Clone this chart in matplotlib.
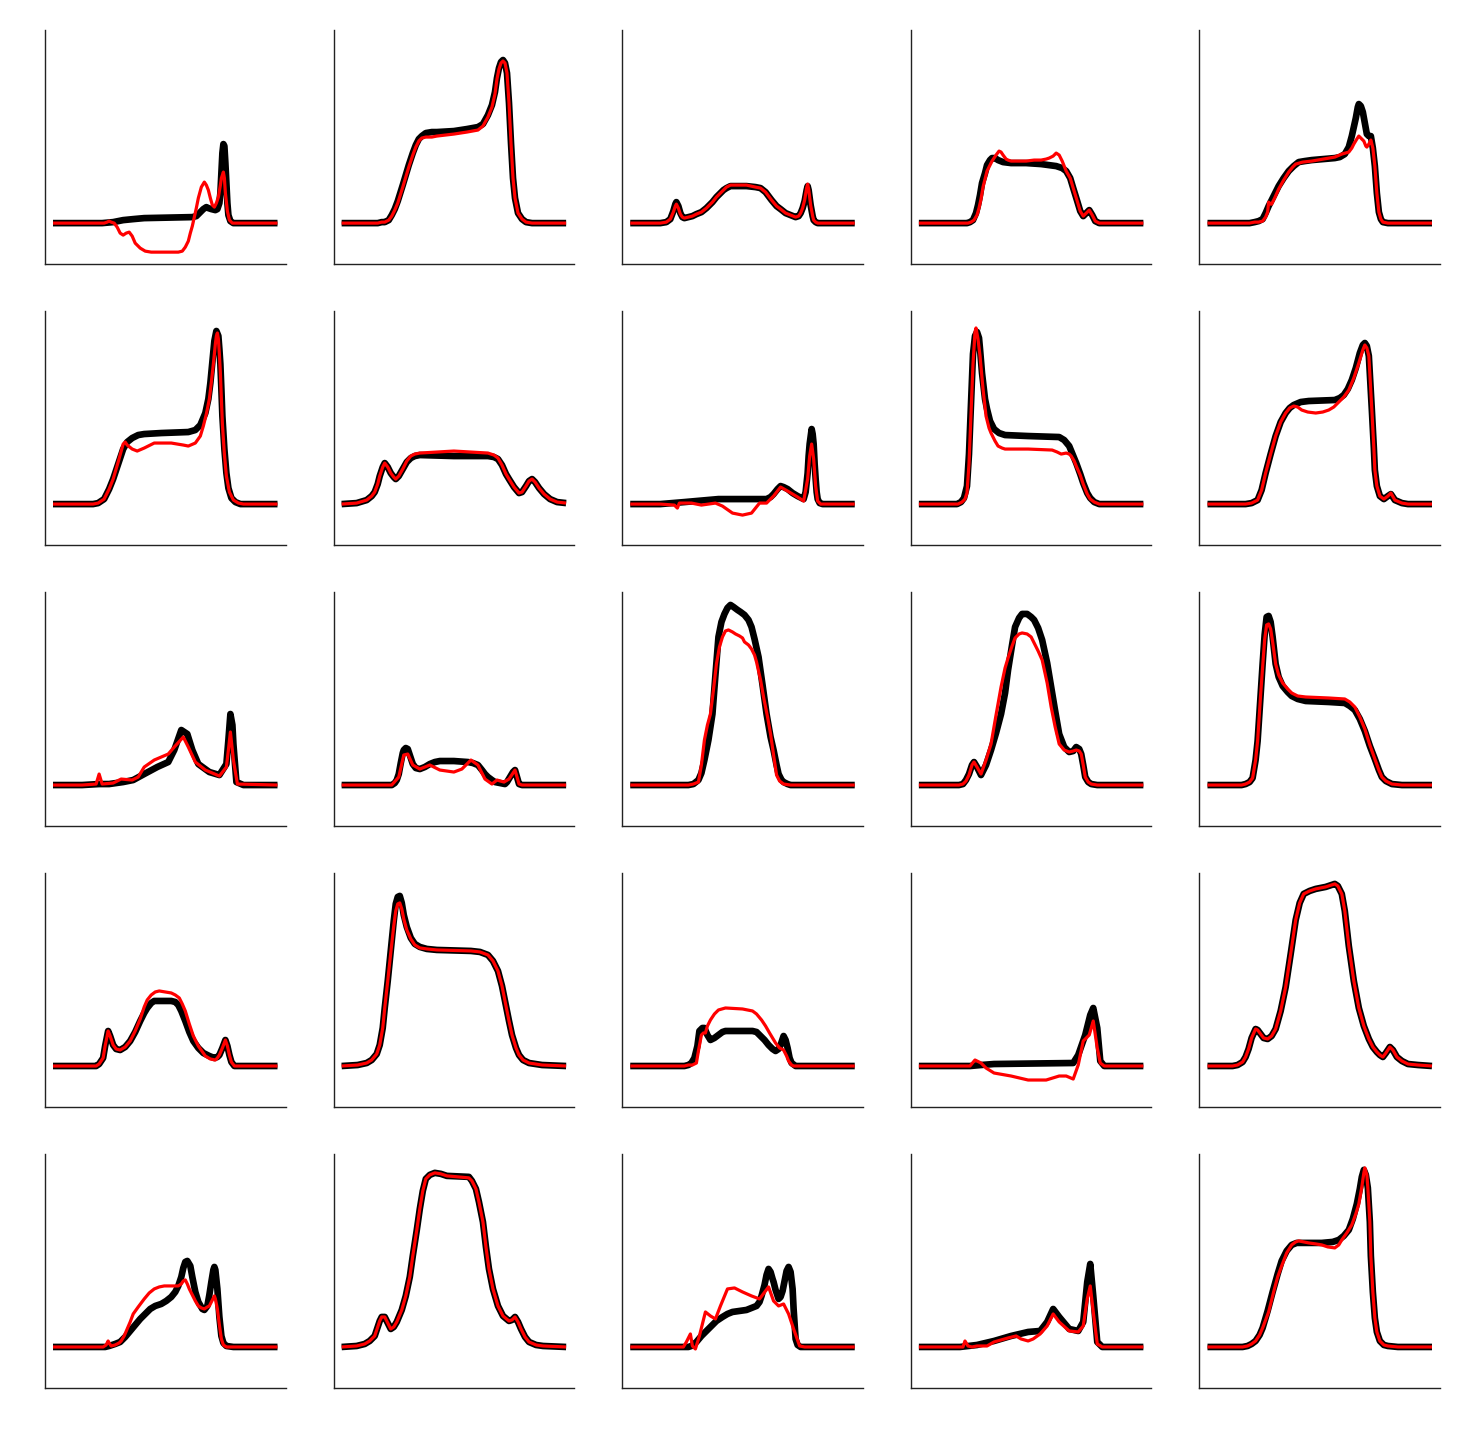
import matplotlib
matplotlib.use("Agg")
import matplotlib.pyplot as plt

# Each panel: black = reference curve, red = predicted curve.
# x in sample units (0..224), y in signal units (baseline 0).

# row 1
p11_bx = [0, 49, 60, 70, 80, 91, 139, 143, 146, 150, 153, 155, 158, 162, 164, 166, 167, 168, 169, 170, 171, 172, 173, 174, 175, 177, 180, 224]
p11_by = [0, 0, 1, 3, 4, 5, 6, 7, 10, 14, 16, 15, 14, 13, 14, 20, 30, 50, 70, 79, 77, 60, 40, 20, 8, 2, 0, 0]
p11_rx = [0, 51, 54, 56, 58, 61, 64, 67, 70, 73, 76, 79, 82, 87, 92, 98, 110, 125, 129, 132, 135, 137, 139, 141, 143, 145, 148, 151, 153, 155, 157, 159, 161, 163, 165, 167, 168, 170, 171, 172, 174, 176, 179, 224]
p11_ry = [0, 0, 1, 2, 1, 0, -4, -10, -12, -10, -9, -13, -20, -25, -28, -29, -29, -29, -28, -24, -18, -10, -3, 6, 15, 25, 36, 41, 38, 33, 25, 18, 16, 20, 26, 38, 45, 51, 45, 30, 12, 3, 0, 0]

p12_bx = [0, 36, 40, 43, 47, 50, 53, 56, 61, 67, 71, 74, 77, 80, 84, 90, 95, 112, 125, 136, 141, 146, 150, 153, 155, 157, 159, 161, 163, 165, 167, 169, 171, 173, 176, 180, 184, 190, 224]
p12_by = [0, 0, 1, 1, 3, 8, 14, 22, 38, 58, 70, 78, 84, 87, 90, 91, 91, 92, 94, 96, 99, 108, 118, 131, 145, 155, 161, 163, 160, 150, 120, 80, 45, 25, 10, 4, 1, 0, 0]
p12_rx = [0, 36, 40, 43, 47, 50, 53, 56, 61, 67, 71, 74, 77, 80, 84, 90, 95, 112, 125, 136, 141, 146, 150, 153, 155, 157, 159, 161, 163, 165, 167, 169, 171, 173, 176, 180, 184, 190, 224]
p12_ry = [0, 0, 1, 1, 3, 7, 13, 20, 36, 56, 68, 76, 82, 85, 86, 86, 87, 89, 91, 93, 97, 106, 116, 129, 144, 154, 160, 162, 160, 150, 120, 80, 45, 25, 10, 4, 1, 0, 0]

p13_bx = [0, 30, 36, 40, 43, 45, 46, 48, 50, 52, 54, 58, 62, 66, 71, 76, 82, 86, 90, 93, 96, 100, 105, 116, 125, 130, 135, 141, 146, 150, 155, 160, 165, 168, 170, 172, 174, 176, 177, 178, 180, 182, 183, 185, 187, 224]
p13_by = [0, 0, 1, 4, 12, 19, 21, 17, 10, 6, 5, 6, 7, 9, 11, 15, 21, 26, 30, 33, 35, 37, 37, 37, 36, 35, 31, 23, 17, 14, 10, 8, 6, 7, 10, 15, 22, 33, 37, 33, 18, 7, 3, 1, 0, 0]
p13_rx = [0, 30, 36, 40, 43, 45, 46, 48, 50, 52, 54, 58, 62, 66, 71, 76, 82, 86, 90, 93, 96, 100, 105, 116, 125, 130, 135, 141, 146, 150, 155, 160, 165, 168, 170, 172, 174, 176, 177, 178, 180, 182, 183, 185, 187, 224]
p13_ry = [0, 0, 1, 4, 11, 17, 19, 15, 9, 6, 5, 6, 7, 9, 11, 15, 21, 26, 30, 33, 36, 38, 38, 38, 36, 35, 31, 23, 17, 14, 10, 8, 6, 7, 10, 15, 23, 35, 39, 34, 18, 7, 3, 1, 0, 0]

p14_bx = [0, 48, 51, 54, 57, 59, 61, 63, 66, 68, 71, 73, 76, 79, 84, 92, 107, 122, 137, 143, 147, 151, 154, 158, 161, 164, 167, 170, 173, 176, 180, 224]
p14_by = [0, 0, 1, 3, 10, 18, 28, 40, 50, 58, 63, 65, 65, 63, 61, 60, 60, 59, 57, 55, 52, 45, 35, 22, 12, 7, 10, 13, 8, 2, 0, 0]
p14_rx = [0, 49, 52, 55, 58, 60, 62, 64, 66, 68, 71, 73, 75, 77, 80, 82, 84, 87, 89, 92, 100, 107, 115, 122, 127, 130, 134, 137, 140, 143, 147, 151, 154, 158, 161, 164, 167, 170, 173, 176, 180, 224]
p14_ry = [0, 0, 1, 3, 8, 15, 24, 36, 44, 52, 58, 62, 65, 68, 72, 71, 68, 64, 63, 62, 62, 62, 63, 63, 64, 65, 67, 70, 68, 62, 52, 45, 35, 22, 12, 7, 10, 13, 8, 2, 0, 0]

p15_bx = [0, 42, 47, 51, 55, 58, 61, 66, 71, 76, 81, 86, 91, 97, 104, 127, 132, 137, 141, 144, 146, 148, 150, 151, 153, 155, 157, 159, 161, 163, 165, 167, 169, 171, 173, 175, 180, 224]
p15_by = [0, 0, 1, 2, 4, 10, 17, 27, 37, 45, 52, 57, 61, 62, 63, 65, 66, 69, 76, 87, 96, 105, 116, 119, 117, 111, 100, 89, 87, 87, 75, 57, 30, 11, 4, 1, 0, 0]
p15_rx = [0, 42, 47, 51, 55, 58, 60, 61, 63, 64, 67, 71, 76, 81, 85, 88, 95, 104, 127, 134, 141, 144, 146, 149, 151, 153, 156, 158, 159, 161, 163, 165, 167, 169, 171, 173, 175, 180, 224]
p15_ry = [0, 0, 1, 1, 2, 6, 11, 21, 19, 19, 25, 34, 43, 51, 56, 59, 61, 62, 66, 69, 71, 75, 79, 84, 87, 85, 82, 77, 76, 79, 83, 75, 57, 30, 11, 4, 1, 0, 0]

# row 2
p21_bx = [0, 40, 45, 51, 56, 60, 65, 70, 74, 79, 85, 91, 108, 135, 142, 147, 152, 155, 157, 159, 161, 163, 165, 166, 167, 168, 169, 171, 173, 175, 178, 182, 187, 224]
p21_by = [0, 0, 1, 5, 15, 25, 40, 55, 62, 66, 69, 70, 71, 72, 74, 79, 91, 105, 121, 142, 163, 173, 168, 155, 140, 115, 88, 55, 31, 16, 6, 2, 0, 0]
p21_rx = [0, 40, 45, 51, 56, 60, 65, 70, 72, 74, 79, 84, 91, 101, 118, 130, 135, 142, 147, 150, 153, 156, 158, 160, 162, 163, 164, 165, 166, 167, 168, 169, 171, 173, 176, 180, 185, 190, 224]
p21_ry = [0, 0, 1, 5, 15, 25, 42, 60, 62, 59, 55, 53, 56, 61, 61, 59, 58, 61, 68, 78, 90, 105, 122, 140, 160, 168, 171, 165, 150, 131, 105, 80, 50, 28, 12, 4, 1, 0, 0]

p22_bx = [0, 15, 25, 30, 33, 36, 38, 41, 43, 46, 49, 52, 54, 57, 61, 65, 69, 73, 78, 112, 146, 152, 156, 160, 164, 167, 172, 177, 180, 184, 187, 190, 193, 197, 202, 208, 215, 224]
p22_by = [0, 1, 4, 8, 12, 20, 28, 37, 41, 37, 31, 27, 25, 28, 35, 42, 46, 48, 49, 48, 48, 47, 45, 39, 30, 25, 17, 11, 12, 18, 23, 25, 22, 16, 10, 5, 2, 1]
p22_rx = [0, 15, 25, 30, 33, 36, 38, 41, 43, 46, 49, 52, 54, 57, 61, 65, 69, 73, 78, 112, 146, 152, 156, 160, 164, 167, 172, 177, 180, 184, 187, 190, 193, 197, 202, 208, 215, 224]
p22_ry = [0, 1, 4, 8, 12, 20, 28, 37, 41, 37, 31, 27, 25, 28, 35, 43, 48, 50, 51, 53, 51, 49, 46, 39, 30, 25, 17, 11, 12, 18, 23, 25, 22, 16, 10, 5, 2, 1]

p23_bx = [0, 30, 54, 88, 136, 140, 143, 147, 150, 153, 157, 162, 167, 171, 173, 175, 177, 178, 179, 181, 182, 183, 184, 185, 186, 187, 189, 192, 224]
p23_by = [0, 0, 2, 5, 5, 7, 10, 15, 18, 17, 15, 11, 8, 6, 5, 12, 31, 48, 60, 75, 70, 60, 40, 25, 12, 5, 1, 0, 0]
p23_rx = [0, 30, 44, 47, 49, 61, 71, 85, 92, 102, 112, 121, 129, 136, 143, 150, 157, 167, 173, 177, 179, 181, 183, 185, 187, 190, 224]
p23_ry = [0, 0, -1, -4, 1, 1, -1, 1, -2, -9, -11, -9, 1, 1, 8, 17, 13, 7, 3, 25, 48, 60, 45, 18, 3, 0, 0]

p24_bx = [0, 38, 42, 45, 48, 50, 52, 54, 56, 58, 60, 61, 63, 66, 68, 71, 75, 80, 86, 109, 140, 145, 150, 157, 161, 164, 168, 171, 175, 180, 224]
p24_by = [0, 0, 2, 6, 18, 50, 100, 150, 168, 172, 166, 155, 131, 105, 95, 83, 75, 71, 69, 68, 67, 64, 58, 41, 30, 21, 11, 6, 2, 0, 0]
p24_rx = [0, 39, 43, 46, 48, 50, 52, 54, 56, 57, 59, 61, 64, 67, 70, 72, 76, 79, 83, 86, 109, 133, 138, 142, 147, 150, 152, 155, 157, 161, 164, 168, 171, 175, 180, 224]
p24_ry = [0, 0, 2, 5, 11, 40, 90, 140, 172, 176, 165, 148, 115, 88, 76, 71, 63, 58, 56, 55, 55, 54, 52, 50, 51, 50, 48, 43, 38, 29, 20, 10, 5, 2, 0, 0]

p25_bx = [0, 38, 44, 50, 54, 58, 63, 68, 73, 78, 82, 86, 93, 101, 127, 132, 136, 140, 144, 148, 152, 155, 157, 159, 161, 162, 164, 166, 167, 169, 172, 176, 180, 183, 187, 194, 200, 224]
p25_by = [0, 0, 1, 4, 14, 31, 50, 68, 82, 91, 96, 99, 102, 103, 104, 106, 109, 115, 124, 136, 151, 159, 161, 158, 148, 130, 94, 56, 34, 18, 8, 5, 8, 10, 4, 1, 0, 0]
p25_rx = [0, 38, 44, 50, 54, 58, 63, 68, 73, 78, 82, 86, 90, 94, 100, 108, 115, 121, 126, 130, 136, 141, 146, 151, 155, 157, 159, 161, 162, 164, 166, 167, 169, 172, 176, 180, 183, 187, 194, 200, 224]
p25_ry = [0, 0, 1, 4, 14, 31, 50, 68, 82, 91, 96, 98, 97, 94, 92, 91, 92, 94, 97, 101, 107, 114, 126, 141, 154, 159, 156, 148, 130, 94, 56, 34, 18, 8, 5, 8, 11, 4, 1, 0, 0]

# row 3
p31_bx = [0, 29, 46, 56, 70, 80, 91, 104, 115, 121, 128, 134, 139, 145, 156, 166, 173, 175, 177, 179, 180, 183, 190, 224]
p31_by = [0, 0, 1, 1, 3, 5, 11, 18, 23, 35, 55, 51, 35, 21, 13, 10, 21, 45, 71, 60, 41, 3, 0, 0]
p31_rx = [0, 29, 43, 46, 49, 60, 68, 79, 85, 91, 101, 115, 121, 130, 135, 142, 152, 166, 173, 175, 177, 180, 184, 224]
p31_ry = [0, 0, 1, 11, 1, 2, 6, 5, 8, 18, 25, 31, 38, 48, 38, 23, 15, 9, 18, 35, 53, 25, 1, 0]

p32_bx = [0, 50, 53, 55, 57, 59, 61, 62, 64, 66, 68, 71, 74, 78, 83, 88, 93, 98, 112, 126, 131, 136, 140, 143, 146, 150, 153, 158, 163, 165, 168, 171, 173, 175, 177, 180, 224]
p32_by = [0, 0, 2, 5, 11, 22, 32, 35, 37, 36, 30, 21, 17, 16, 18, 21, 23, 24, 24, 23, 22, 20, 15, 11, 8, 5, 3, 2, 1, 3, 8, 13, 15, 8, 1, 0, 0]
p32_rx = [0, 50, 57, 62, 66, 71, 78, 88, 98, 112, 120, 129, 136, 143, 150, 155, 162, 167, 173, 177, 180, 224]
p32_ry = [0, 0, 8, 30, 31, 20, 16, 20, 15, 13, 16, 25, 20, 6, 1, 5, 3, 6, 15, 1, 0, 0]

p33_bx = [0, 58, 63, 68, 71, 74, 78, 82, 85, 88, 91, 94, 97, 100, 103, 107, 110, 114, 118, 121, 124, 128, 132, 136, 140, 143, 146, 148, 151, 153, 157, 160, 224]
p33_by = [0, 0, 1, 5, 12, 25, 45, 71, 110, 148, 163, 171, 177, 180, 178, 175, 173, 170, 165, 158, 146, 128, 100, 71, 48, 35, 20, 11, 5, 3, 1, 0, 0]
p33_rx = [0, 58, 63, 68, 71, 74, 77, 80, 83, 86, 89, 92, 95, 98, 102, 105, 109, 112, 114, 118, 121, 124, 126, 130, 133, 137, 140, 143, 146, 149, 153, 160, 224]
p33_ry = [0, 0, 1, 3, 20, 45, 60, 71, 95, 121, 138, 148, 154, 155, 153, 151, 149, 147, 143, 140, 136, 130, 123, 105, 88, 68, 51, 30, 10, 4, 1, 0, 0]

p34_bx = [0, 40, 44, 47, 50, 53, 55, 58, 62, 67, 72, 77, 82, 86, 89, 93, 96, 100, 103, 108, 112, 115, 119, 123, 128, 132, 136, 140, 145, 150, 154, 157, 160, 162, 164, 166, 169, 172, 178, 224]
p34_by = [0, 0, 1, 5, 11, 20, 23, 18, 10, 20, 35, 52, 71, 92, 115, 140, 158, 167, 171, 171, 168, 165, 157, 145, 122, 98, 74, 51, 38, 33, 34, 38, 36, 31, 20, 8, 3, 1, 0, 0]
p34_rx = [0, 40, 44, 47, 50, 53, 55, 58, 62, 67, 72, 77, 82, 86, 89, 93, 96, 100, 103, 108, 112, 115, 119, 123, 128, 132, 136, 140, 145, 150, 154, 157, 160, 162, 164, 166, 169, 172, 178, 224]
p34_ry = [0, 0, 1, 4, 10, 20, 23, 18, 11, 25, 41, 70, 98, 117, 127, 139, 147, 151, 152, 151, 148, 142, 134, 125, 102, 78, 58, 41, 35, 33, 34, 35, 34, 31, 20, 8, 3, 1, 0, 0]

p35_bx = [0, 34, 38, 42, 45, 48, 50, 53, 55, 57, 59, 61, 63, 65, 68, 71, 75, 80, 84, 90, 98, 121, 137, 142, 147, 152, 157, 162, 167, 171, 174, 178, 184, 194, 224]
p35_by = [0, 0, 1, 3, 7, 25, 44, 90, 121, 150, 168, 169, 163, 148, 121, 108, 99, 93, 89, 86, 84, 83, 82, 79, 75, 66, 54, 39, 26, 15, 8, 4, 1, 0, 0]
p35_rx = [0, 34, 38, 42, 45, 48, 50, 53, 55, 57, 59, 61, 63, 65, 68, 71, 75, 80, 84, 90, 98, 121, 137, 142, 147, 152, 157, 162, 167, 171, 174, 178, 184, 194, 224]
p35_ry = [0, 0, 1, 3, 7, 25, 44, 90, 118, 145, 160, 161, 156, 143, 121, 110, 102, 96, 92, 89, 88, 87, 86, 83, 78, 68, 56, 40, 26, 15, 8, 4, 1, 0, 0]

# row 4
p41_bx = [0, 40, 43, 46, 50, 52, 55, 57, 60, 63, 67, 72, 77, 82, 87, 91, 94, 98, 101, 118, 122, 125, 128, 132, 136, 140, 145, 150, 156, 161, 164, 166, 169, 172, 174, 176, 178, 181, 224]
p41_by = [0, 0, 0, 2, 8, 20, 35, 30, 21, 17, 16, 19, 25, 34, 45, 53, 58, 63, 65, 65, 64, 61, 55, 45, 34, 25, 18, 13, 10, 8, 9, 11, 18, 26, 20, 11, 4, 0, 0]
p41_rx = [0, 40, 43, 46, 50, 52, 55, 57, 60, 63, 67, 72, 77, 82, 87, 91, 94, 98, 102, 106, 112, 118, 122, 126, 129, 132, 136, 140, 145, 152, 157, 162, 164, 166, 169, 172, 174, 176, 178, 181, 224]
p41_ry = [0, 0, 0, 2, 8, 20, 35, 30, 21, 17, 16, 19, 25, 35, 47, 59, 66, 71, 74, 75, 74, 73, 71, 68, 62, 55, 42, 30, 20, 10, 7, 6, 8, 11, 18, 26, 20, 11, 4, 0, 0]

p42_bx = [0, 16, 25, 30, 35, 38, 41, 43, 46, 49, 52, 54, 56, 58, 60, 62, 65, 69, 73, 78, 85, 95, 129, 138, 146, 151, 156, 160, 163, 167, 170, 174, 177, 181, 187, 200, 224]
p42_by = [0, 1, 3, 6, 12, 21, 38, 58, 85, 115, 145, 162, 169, 170, 163, 151, 139, 128, 122, 119, 117, 116, 115, 114, 111, 105, 95, 80, 65, 45, 31, 18, 11, 6, 3, 1, 0]
p42_rx = [0, 16, 25, 30, 35, 38, 41, 43, 46, 49, 52, 54, 56, 58, 60, 62, 65, 69, 73, 78, 85, 95, 129, 138, 146, 151, 156, 160, 163, 167, 170, 174, 177, 181, 187, 200, 224]
p42_ry = [0, 1, 3, 6, 12, 21, 38, 58, 85, 113, 140, 155, 162, 163, 157, 147, 136, 127, 121, 118, 117, 116, 115, 114, 111, 105, 95, 80, 65, 45, 31, 18, 11, 6, 3, 1, 0]

p43_bx = [0, 54, 58, 61, 64, 67, 69, 72, 74, 77, 80, 84, 88, 92, 95, 122, 126, 129, 134, 138, 142, 145, 148, 150, 152, 153, 155, 157, 159, 161, 165, 224]
p43_by = [0, 0, 1, 3, 8, 20, 35, 38, 38, 31, 26, 28, 31, 34, 35, 35, 34, 31, 26, 21, 17, 15, 17, 21, 27, 30, 26, 18, 8, 3, 0, 0]
p43_rx = [0, 54, 58, 62, 66, 68, 71, 73, 75, 77, 80, 84, 88, 95, 112, 122, 126, 131, 135, 139, 142, 145, 149, 153, 156, 158, 161, 163, 224]
p43_ry = [0, 0, 1, 1, 3, 15, 31, 33, 33, 40, 46, 52, 56, 58, 57, 55, 52, 46, 40, 33, 28, 23, 18, 16, 10, 5, 1, 0, 0]

p44_bx = [0, 51, 62, 75, 154, 159, 166, 171, 174, 178, 181, 185, 224]
p44_by = [0, 0, 1, 2, 3, 11, 31, 51, 58, 38, 5, 0, 0]
p44_rx = [0, 51, 56, 62, 67, 75, 92, 109, 127, 140, 147, 154, 159, 164, 170, 174, 178, 181, 185, 224]
p44_ry = [0, 0, 6, 3, -2, -7, -10, -14, -14, -10, -10, -13, 1, 25, 31, 45, 18, 3, 0, 0]

p45_bx = [0, 25, 30, 35, 38, 41, 44, 48, 50, 53, 56, 60, 64, 68, 73, 78, 83, 88, 92, 96, 102, 108, 118, 124, 127, 130, 134, 137, 141, 146, 151, 156, 161, 165, 169, 172, 175, 178, 182, 185, 189, 194, 200, 210, 224]
p45_by = [0, 0, 1, 4, 9, 17, 28, 37, 36, 32, 28, 27, 30, 37, 55, 79, 112, 146, 163, 172, 175, 177, 179, 181, 182, 180, 172, 155, 120, 85, 58, 40, 27, 19, 14, 11, 9, 13, 19, 16, 9, 5, 2, 1, 0]
p45_rx = [0, 25, 30, 35, 38, 41, 44, 48, 50, 53, 56, 60, 64, 68, 73, 78, 83, 88, 92, 96, 102, 108, 118, 124, 127, 130, 134, 137, 141, 146, 151, 156, 161, 165, 169, 172, 175, 178, 182, 185, 189, 194, 200, 210, 224]
p45_ry = [0, 0, 1, 4, 9, 17, 28, 37, 36, 32, 28, 27, 30, 37, 55, 79, 112, 146, 163, 172, 175, 177, 179, 181, 182, 180, 172, 155, 120, 85, 58, 40, 27, 19, 14, 11, 9, 13, 19, 16, 9, 5, 2, 1, 0]

# row 5
p51_bx = [0, 46, 52, 56, 62, 67, 72, 77, 82, 87, 92, 97, 102, 108, 113, 118, 122, 125, 128, 130, 132, 134, 137, 139, 142, 145, 149, 151, 154, 156, 158, 160, 161, 162, 164, 166, 168, 170, 173, 180, 224]
p51_by = [0, 0, 0, 1, 3, 5, 10, 16, 22, 28, 33, 38, 41, 43, 46, 50, 55, 61, 70, 79, 85, 86, 81, 70, 55, 45, 38, 37, 41, 52, 65, 77, 80, 77, 58, 30, 11, 4, 1, 0, 0]
p51_rx = [0, 50, 53, 55, 56, 58, 62, 66, 68, 71, 74, 77, 80, 85, 91, 96, 101, 106, 111, 118, 125, 128, 130, 132, 134, 136, 139, 142, 145, 148, 151, 154, 156, 159, 161, 162, 164, 166, 168, 170, 173, 224]
p51_ry = [0, 0, 2, 6, 4, 1, 2, 4, 6, 11, 18, 25, 33, 40, 48, 54, 58, 60, 61, 61, 61, 63, 66, 67, 63, 58, 52, 46, 41, 39, 38, 40, 41, 47, 51, 48, 38, 22, 8, 2, 0, 0]

p52_bx = [0, 15, 23, 28, 33, 36, 38, 40, 43, 46, 49, 52, 55, 60, 64, 68, 71, 75, 78, 81, 84, 88, 93, 99, 105, 127, 130, 134, 137, 141, 144, 147, 151, 156, 161, 167, 170, 173, 176, 179, 183, 187, 194, 201, 224]
p52_by = [0, 1, 3, 6, 11, 20, 26, 30, 30, 24, 18, 20, 25, 37, 51, 70, 91, 117, 138, 156, 168, 172, 174, 173, 171, 170, 166, 158, 145, 125, 100, 78, 58, 41, 31, 26, 27, 30, 25, 18, 10, 5, 2, 1, 0]
p52_rx = [0, 15, 23, 28, 33, 36, 38, 40, 43, 46, 49, 52, 55, 60, 64, 68, 71, 75, 78, 81, 84, 88, 93, 99, 105, 127, 130, 134, 137, 141, 144, 147, 151, 156, 161, 167, 170, 173, 176, 179, 183, 187, 194, 201, 224]
p52_ry = [0, 1, 3, 6, 11, 20, 26, 30, 30, 24, 18, 20, 25, 37, 51, 70, 91, 117, 138, 156, 168, 172, 174, 173, 171, 169, 166, 158, 145, 125, 100, 78, 58, 41, 31, 26, 27, 30, 25, 18, 10, 5, 2, 1, 0]

p53_bx = [0, 54, 58, 61, 66, 71, 76, 81, 86, 92, 97, 102, 109, 116, 121, 126, 129, 131, 134, 136, 138, 140, 142, 143, 145, 148, 150, 152, 154, 156, 158, 160, 162, 163, 165, 167, 170, 224]
p53_by = [0, 0, 0, 1, 5, 11, 16, 21, 26, 30, 33, 35, 36, 37, 39, 41, 45, 51, 62, 72, 78, 75, 68, 65, 57, 48, 50, 56, 66, 76, 80, 75, 58, 38, 8, 2, 0, 0]
p53_rx = [0, 53, 56, 60, 62, 65, 69, 75, 80, 85, 90, 97, 104, 112, 121, 129, 138, 143, 148, 153, 158, 163, 169, 174, 224]
p53_ry = [0, 0, 5, 13, 1, -2, 11, 35, 31, 28, 41, 58, 59, 55, 51, 48, 60, 46, 41, 43, 33, 18, 1, 0, 0]

p54_bx = [0, 41, 58, 75, 92, 109, 121, 128, 134, 140, 150, 159, 164, 168, 171, 174, 178, 183, 224]
p54_by = [0, 0, 2, 6, 11, 15, 16, 25, 38, 30, 18, 16, 25, 65, 83, 51, 5, 0, 0]
p54_rx = [0, 41, 44, 46, 49, 53, 58, 68, 75, 89, 97, 102, 109, 114, 121, 128, 134, 140, 150, 159, 164, 168, 171, 174, 178, 183, 224]
p54_ry = [0, 0, 0, 6, 1, 0, 1, 1, 5, 9, 11, 8, 6, 8, 13, 21, 33, 25, 16, 15, 21, 48, 61, 35, 3, 0, 0]

p55_bx = [0, 35, 40, 44, 48, 52, 55, 60, 65, 70, 74, 79, 84, 89, 94, 114, 125, 131, 136, 141, 145, 149, 152, 154, 156, 158, 160, 162, 163, 165, 167, 169, 172, 176, 180, 190, 224]
p55_by = [0, 0, 1, 3, 6, 12, 19, 36, 55, 73, 86, 96, 102, 104, 104, 104, 105, 107, 111, 117, 128, 143, 158, 170, 177, 172, 159, 125, 91, 55, 29, 15, 6, 2, 1, 0, 0]
p55_rx = [0, 35, 40, 44, 48, 52, 55, 58, 61, 66, 70, 74, 79, 84, 88, 91, 96, 101, 108, 114, 120, 127, 131, 134, 139, 144, 148, 151, 154, 156, 157, 159, 160, 162, 163, 165, 167, 169, 172, 176, 180, 190, 224]
p55_ry = [0, 0, 1, 3, 6, 12, 19, 27, 35, 55, 70, 81, 94, 102, 105, 106, 105, 104, 103, 102, 100, 99, 102, 107, 114, 122, 133, 143, 160, 174, 179, 172, 159, 125, 91, 55, 29, 15, 6, 2, 1, 0, 0]

panels = [
    (p11_bx, p11_by, p11_rx, p11_ry), (p12_bx, p12_by, p12_rx, p12_ry),
    (p13_bx, p13_by, p13_rx, p13_ry), (p14_bx, p14_by, p14_rx, p14_ry),
    (p15_bx, p15_by, p15_rx, p15_ry),
    (p21_bx, p21_by, p21_rx, p21_ry), (p22_bx, p22_by, p22_rx, p22_ry),
    (p23_bx, p23_by, p23_rx, p23_ry), (p24_bx, p24_by, p24_rx, p24_ry),
    (p25_bx, p25_by, p25_rx, p25_ry),
    (p31_bx, p31_by, p31_rx, p31_ry), (p32_bx, p32_by, p32_rx, p32_ry),
    (p33_bx, p33_by, p33_rx, p33_ry), (p34_bx, p34_by, p34_rx, p34_ry),
    (p35_bx, p35_by, p35_rx, p35_ry),
    (p41_bx, p41_by, p41_rx, p41_ry), (p42_bx, p42_by, p42_rx, p42_ry),
    (p43_bx, p43_by, p43_rx, p43_ry), (p44_bx, p44_by, p44_rx, p44_ry),
    (p45_bx, p45_by, p45_rx, p45_ry),
    (p51_bx, p51_by, p51_rx, p51_ry), (p52_bx, p52_by, p52_rx, p52_ry),
    (p53_bx, p53_by, p53_rx, p53_ry), (p54_bx, p54_by, p54_rx, p54_ry),
    (p55_bx, p55_by, p55_rx, p55_ry),
]

W, H = 1469, 1433
fig, axes = plt.subplots(5, 5, figsize=(W / 100, H / 100), dpi=100)
fig.subplots_adjust(left=45 / W, right=1440 / W, top=1 - 30 / H,
                    bottom=1 - 1388 / H, wspace=0.2, hspace=0.2)

for ax, (bx, by, rx, ry) in zip(axes.flat, panels):
    ax.plot(bx, by, color="black", lw=4.8, solid_joinstyle="round",
            solid_capstyle="butt", zorder=2)
    ax.plot(rx, ry, color="red", lw=2.3, solid_joinstyle="round",
            solid_capstyle="butt", zorder=3)
    ax.set_xlim(-8, 232)
    ax.set_ylim(-41, 193)
    ax.spines["top"].set_visible(False)
    ax.spines["right"].set_visible(False)
    for s in ("left", "bottom"):
        ax.spines[s].set_color("#222222")
        ax.spines[s].set_linewidth(1.0)
    ax.set_xticks([])
    ax.set_yticks([])

fig.savefig("out.png", dpi=100, facecolor="white")
